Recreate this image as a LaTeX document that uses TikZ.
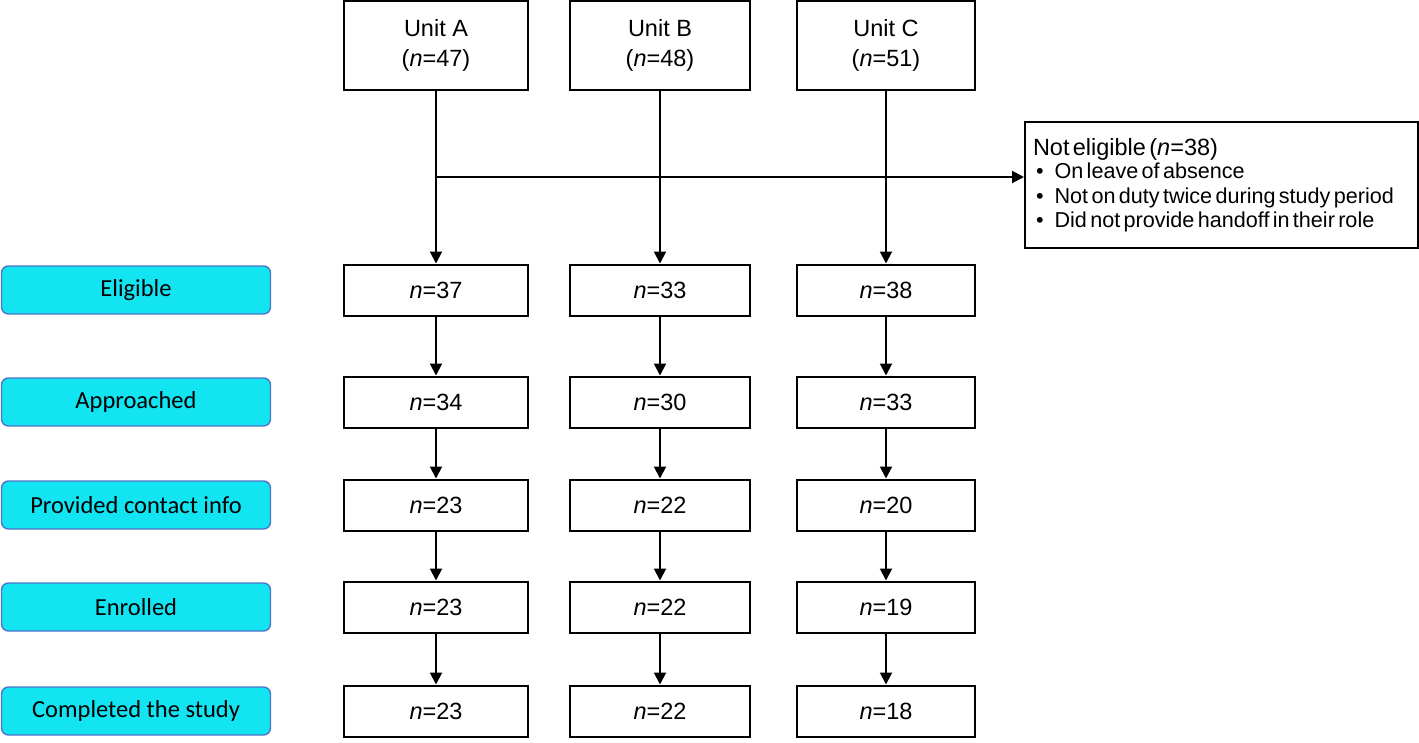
\documentclass[tikz,border=0pt]{standalone}
\usepackage{fontspec}
\setmainfont{Liberation Sans}
\newfontfamily\calib{Carlito}
\usetikzlibrary{arrows.meta,positioning}
\definecolor{cyanfill}{RGB}{18,228,242}
\definecolor{cyanedge}{RGB}{78,116,200}
\tikzset{
  box/.style={draw=black, line width=2pt, minimum height=51pt, inner sep=0pt, font=\fontsize{23.5}{30}\selectfont},
  unitbox/.style={box, minimum height=89pt, align=center},
  lab/.style={draw=cyanedge, line width=1.4pt, fill=cyanfill, rounded corners=7pt, minimum width=269pt, minimum height=48pt, inner sep=0pt, font=\calib\fontsize{24.5}{28}\selectfont},
  arr/.style={line width=2pt, -{Triangle[length=12pt,width=12pt]}}
}
\begin{document}
\begin{tikzpicture}[x=1pt,y=1pt]
\useasboundingbox (0,0) rectangle (1419,-742);
% unit boxes
\node[unitbox, minimum width=184pt] (uA) at (436,-45) {Unit A\\(\textit{n}=47)};
\node[unitbox, minimum width=180pt] (uB) at (660,-45) {Unit B\\(\textit{n}=48)};
\node[unitbox, minimum width=178pt] (uC) at (886,-45) {Unit C\\(\textit{n}=51)};
% not eligible
\node[draw=black, line width=2pt, anchor=north west, minimum width=393pt, minimum height=126pt, inner sep=0pt, align=left, text width=385pt] (ne) at (1024,-121) {%
  \hspace*{4pt}\fontsize{23.5}{26}\selectfont Not eligible (\textit{n}=38)\\[-1pt]
  \fontsize{21.6}{24.5}\selectfont\hspace*{7pt}\textbullet\hspace{11pt}On leave of absence\\
  \fontsize{21.6}{24.5}\selectfont\hspace*{7pt}\textbullet\hspace{11pt}Not on duty twice during study period\\
  \fontsize{21.6}{24.5}\selectfont\hspace*{7pt}\textbullet\hspace{11pt}Did not provide handoff in their role\\[8pt]};
% rows
\foreach \r/\y/\lbl/\a/\b/\c in {1/290/Eligible/37/33/38, 2/402/Approached/34/30/33, 3/505/Provided contact info/23/22/20, 4/607/Enrolled/23/22/19, 5/711/Completed the study/23/22/18}{
  \node[lab] (L\r) at (136,-\y) {\lbl};
  \node[box, minimum width=184pt] (A\r) at (436,-\y) {\textit{n}=\a};
  \node[box, minimum width=180pt] (B\r) at (660,-\y) {\textit{n}=\b};
  \node[box, minimum width=178pt] (C\r) at (886,-\y) {\textit{n}=\c};
}
% connectors from units
\draw[arr] (uA) -- (A1);
\draw[arr] (uB) -- (B1);
\draw[arr] (uC) -- (C1);
\coordinate (j) at (436,-177);
\draw[arr] (j) -- (j -| ne.west);
% row connectors
\foreach \r/\s in {1/2,2/3,3/4,4/5}{
  \draw[arr] (A\r) -- (A\s);
  \draw[arr] (B\r) -- (B\s);
  \draw[arr] (C\r) -- (C\s);
}
\end{tikzpicture}
\end{document}
